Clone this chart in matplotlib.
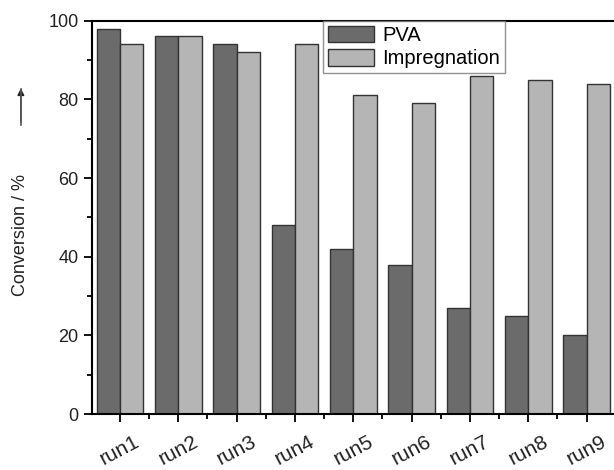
"""Conversion per run: PVA vs impregnation (grouped bars)."""
import numpy as np
import matplotlib.pyplot as plt
import matplotlib.transforms as mtransforms
from matplotlib.ticker import MultipleLocator

runs = ["run1", "run2", "run3", "run4", "run5", "run6", "run7", "run8", "run9"]
pva = [98, 96, 94, 48, 42, 38, 27, 25, 20]
impregnation = [94, 96, 92, 94, 81, 79, 86, 85, 84]

plt.rcParams["font.family"] = ["Liberation Sans", "DejaVu Sans"]


def main():
    fig = plt.figure(figsize=(6.14, 4.70), dpi=100)
    ax = fig.add_axes([0.1493, 0.119, 0.8507, 0.837])
    x = np.arange(len(runs))
    w = 0.40
    ax.bar(x - w / 2, pva, w, color="#6b6b6b", edgecolor="#333333", lw=1.0, label="PVA")
    ax.bar(x + w / 2, impregnation, w, color="#b5b5b5", edgecolor="#333333", lw=1.0,
           label="Impregnation")

    ax.set_xlim(-0.485, 8.47)
    ax.set_ylim(0, 100)
    ax.set_xticks(x)
    ax.set_xticklabels(runs, rotation=28, ha="center", fontsize=15, color="#222222")
    shift = mtransforms.ScaledTranslation(-14 / 100, 0, fig.dpi_scale_trans)
    for lab in ax.get_xticklabels():
        lab.set_transform(lab.get_transform() + shift)
    ax.xaxis.set_minor_locator(MultipleLocator(1, offset=0.5))
    ax.yaxis.set_major_locator(MultipleLocator(20))
    ax.yaxis.set_minor_locator(MultipleLocator(10))
    ax.tick_params(axis="y", labelsize=13, labelcolor="#222222")
    ax.tick_params(axis="x", which="major", pad=7)
    ax.tick_params(which="major", length=6, width=1.3, direction="out")
    ax.tick_params(which="minor", length=3.6, width=1.3, direction="out")
    ax.spines["right"].set_visible(False)
    for s in ("left", "bottom", "top"):
        ax.spines[s].set_linewidth(1.5)

    leg = ax.legend(loc="upper left", bbox_to_anchor=(0.442, 1.0), fontsize=14.5,
                    frameon=True, fancybox=False, borderaxespad=0, handlelength=2.3,
                    handleheight=0.9, borderpad=0.25, labelspacing=0.2, handletextpad=0.4)
    leg.get_frame().set_edgecolor("#777777")
    leg.get_frame().set_linewidth(1.0)

    fig.text(0.033, 0.50, "Conversion / %", rotation=90, ha="center", va="center",
             fontsize=13, color="#222222")
    fig.add_artist(plt.Line2D([0.034, 0.034], [0.735, 0.81], color="#555555", lw=1.2))
    ax.annotate("", xy=(0.034, 0.818), xytext=(0.034, 0.735), xycoords="figure fraction",
                arrowprops=dict(arrowstyle="-|>", color="#222222", lw=1.0,
                                mutation_scale=10))

    fig.savefig("out.png", dpi=100)


if __name__ == "__main__":
    main()
